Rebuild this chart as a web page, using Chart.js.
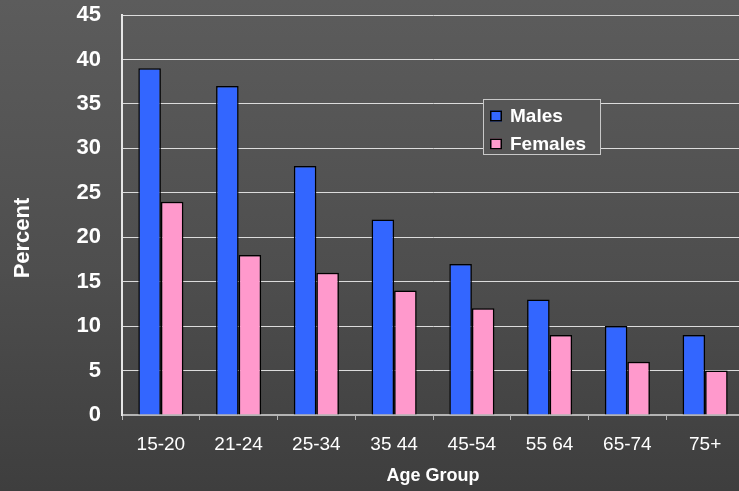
<!DOCTYPE html>
<html>
<head>
<meta charset="utf-8">
<script src="https://cdn.jsdelivr.net/npm/chart.js@4/dist/chart.umd.min.js"></script>
<style>
  html, body { margin: 0; padding: 0; width: 739px; height: 491px; overflow: hidden; }
  body { background: linear-gradient(to bottom, #5c5c5c 0%, #4e4e4e 55%, #3e3e3e 100%); }
  #wrap { position: absolute; left: 0; top: 0; width: 744px; height: 491px; }
</style>
</head>
<body>
<div id="wrap"><canvas id="c" width="744" height="491"></canvas></div>
<script>
const categories = ['15-20', '21-24', '25-34', '35 44', '45-54', '55 64', '65-74', '75+'];
const males = [39, 37, 28, 22, 17, 13, 10, 9];
const females = [24, 18, 16, 14, 12, 9, 6, 5];
const seriesNames = ['Males', 'Females'];
const seriesColors = ['#3366ff', '#ff99cc'];
const yTitle = 'Percent';

const FONT = '"Liberation Sans", Arial, sans-serif';

// Legend box drawn inside the plot area, upper right; it hides the gridlines behind it
const boxLegend = {
  id: 'boxLegend',
  afterDraw(chart) {
    const ctx = chart.ctx;
    ctx.save();
    ctx.fillStyle = '#565656';
    ctx.fillRect(483.5, 99.5, 117, 55);
    ctx.strokeStyle = '#c8c8c8';
    ctx.lineWidth = 1;
    ctx.strokeRect(483.5, 99.5, 117, 55);
    ctx.font = 'bold 19px ' + FONT;
    ctx.textBaseline = 'middle';
    chart.data.datasets.forEach((ds, i) => {
      const cy = 116 + i * 28;
      ctx.fillStyle = ds.backgroundColor;
      ctx.fillRect(490, cy - 5.5, 12, 11);
      ctx.strokeStyle = '#000';
      ctx.lineWidth = 1.5;
      ctx.strokeRect(490.75, cy - 4.75, 10.5, 9.5);
      ctx.fillStyle = '#ffffff';
      ctx.fillText(ds.label, 510, cy + 1);
    });
    ctx.restore();
  }
};

// Vertical axis title, drawn rotated at the left edge
const yAxisTitle = {
  id: 'yAxisTitle',
  afterDraw(chart) {
    const ctx = chart.ctx;
    ctx.save();
    ctx.translate(21.5, 238);
    ctx.rotate(-Math.PI / 2);
    ctx.font = 'bold 22px ' + FONT;
    ctx.fillStyle = '#ffffff';
    ctx.textAlign = 'center';
    ctx.textBaseline = 'middle';
    ctx.fillText(yTitle, 0, 1);
    ctx.restore();
  }
};

new Chart(document.getElementById('c'), {
  type: 'bar',
  data: {
    labels: categories,
    datasets: [
      { label: seriesNames[0], data: males, backgroundColor: seriesColors[0], borderColor: '#000', borderWidth: 1.5 },
      { label: seriesNames[1], data: females, backgroundColor: seriesColors[1], borderColor: '#000', borderWidth: 1.5 }
    ]
  },
  options: {
    responsive: false,
    animation: false,
    layout: { padding: { top: 15, right: 0, left: 0, bottom: 0 } },
    datasets: { bar: { categoryPercentage: 0.58, barPercentage: 1.0 } },
    plugins: { legend: { display: false }, tooltip: { enabled: false } },
    scales: {
      x: {
        grid: { drawOnChartArea: false, drawTicks: true, tickLength: 5, color: '#b4b4b4', lineWidth: 1 },
        border: { color: '#b4b4b4', width: 2 },
        ticks: { color: '#ffffff', font: { family: FONT, size: 19 }, padding: 13, maxRotation: 0 },
        title: { display: true, text: 'Age Group', color: '#ffffff', font: { family: FONT, size: 18, weight: 'bold' }, padding: { top: 0, bottom: 4 } },
        afterFit(scale) { scale.height = 76; scale.paddingLeft = 0; scale.paddingRight = 0; }
      },
      y: {
        min: 0, max: 45,
        grid: { color: '#dcdcdc', lineWidth: 1, drawTicks: false },
        border: { color: '#e6e6e6', width: 2 },
        ticks: { stepSize: 5, color: '#ffffff', font: { family: FONT, size: 22, weight: 'bold' }, padding: 21 },
        afterFit(scale) { scale.width = 122; scale.paddingTop = 0; scale.paddingBottom = 0; }
      }
    }
  },
  plugins: [boxLegend, yAxisTitle]
});
</script>
</body>
</html>
